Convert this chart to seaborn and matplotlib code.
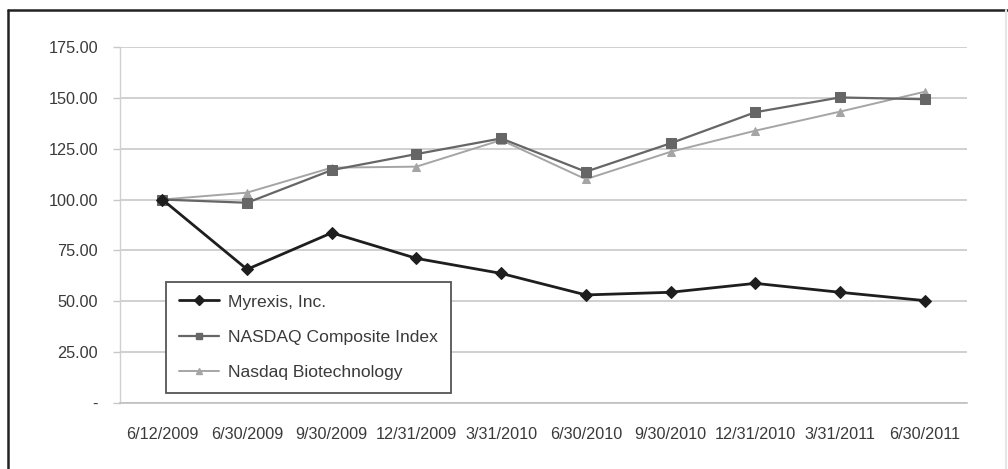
import matplotlib
matplotlib.use("Agg")
import matplotlib.pyplot as plt
from matplotlib.lines import Line2D
import seaborn as sns
import pandas as pd
import numpy as np

dates = ["6/12/2009", "6/30/2009", "9/30/2009", "12/31/2009", "3/31/2010",
         "6/30/2010", "9/30/2010", "12/31/2010", "3/31/2011", "6/30/2011"]
myrexis = [100.0, 65.6, 83.6, 71.0, 63.6, 53.0, 54.3, 58.7, 54.3, 50.2]
nasdaq = [100.0, 98.4, 114.5, 122.4, 130.1, 113.7, 127.7, 143.0, 150.3, 149.4]
biotech = [100.0, 103.4, 115.7, 116.2, 129.3, 110.0, 123.5, 133.9, 143.3, 153.1]
series_names = ["Myrexis, Inc.", "NASDAQ Composite Index", "Nasdaq Biotechnology"]
ytick_vals = [0, 25, 50, 75, 100, 125, 150, 175]
ytick_labels = ["-", "25.00", "50.00", "75.00", "100.00", "125.00", "150.00", "175.00"]

sns.set_theme(style="white")
plt.rcParams["font.family"] = ["Liberation Sans", "DejaVu Sans"]

rows = []
for name, vals in zip(series_names, [myrexis, nasdaq, biotech]):
    for i, (d, v) in enumerate(zip(dates, vals)):
        rows.append({"pos": i, "date": d, "value": v, "series": name})
df = pd.DataFrame(rows)

W, H = 1008, 469
PX = 72 / 100  # points per pixel
fig = plt.figure(figsize=(W / 100, H / 100), dpi=100)
ax = fig.add_axes([120 / W, 1 - 402.5 / H, (967 - 120) / W, (402.5 - 47.3) / H])

# outer frame (top and left dark, right faint)
fx0, fy1 = 8 / W, 1 - 10 / H
fig.lines.append(Line2D([fx0, 1], [fy1, fy1], transform=fig.transFigure,
                        color="#222222", linewidth=1.8, zorder=0))
fig.lines.append(Line2D([fx0, fx0], [0, fy1], transform=fig.transFigure,
                        color="#222222", linewidth=1.8, zorder=0))
fig.lines.append(Line2D([1006 / W, 1006 / W], [0, fy1], transform=fig.transFigure,
                        color="#e6e6e6", linewidth=1.5, zorder=0))

palette = {series_names[0]: "#1e1e1e", series_names[1]: "#666666", series_names[2]: "#a5a5a5"}
markers = {series_names[0]: "D", series_names[1]: "s", series_names[2]: "^"}
sizes = {series_names[0]: 2.0, series_names[1]: 1.6, series_names[2]: 1.4}

for k, name in enumerate(series_names[::-1]):
    sub = df[df["series"] == name]
    sns.lineplot(data=sub, x="pos", y="value", ax=ax, color=palette[name],
                 marker=markers[name], markersize=6.5 if name != series_names[2] else 6,
                 markeredgecolor=palette[name], markerfacecolor=palette[name],
                 linewidth=sizes[name], label=name, legend=False, zorder=3 + k)

ax.set_xlim(-0.5, len(dates) - 0.5)
ax.set_ylim(0, 175)
ax.set_yticks(ytick_vals)
ax.set_yticklabels(ytick_labels)
ax.set_xticks(range(len(dates)))
ax.set_xticklabels(dates)
ax.set_xticks(np.arange(-0.5, len(dates)), minor=True)
ax.tick_params(axis="x", which="major", length=0, pad=24 * PX, labelsize=11.7,
               labelcolor="#3a3a3a")
ax.tick_params(axis="x", which="minor", length=6 * PX, width=1, color="#c8c8c8",
               direction="out")
ax.tick_params(axis="y", which="major", length=7 * PX, width=1, color="#c8c8c8",
               pad=15 * PX, labelsize=11.7, labelcolor="#3a3a3a", left=True)
ax.grid(axis="y", color="#c8c8c8", linewidth=1.2)
ax.grid(axis="x", visible=False)
for side in ["top", "right"]:
    ax.spines[side].set_visible(False)
ax.spines["left"].set_color("#d0d0d0")
ax.spines["bottom"].set_color("#c0c0c0")
ax.spines["left"].set_linewidth(1)
ax.spines["bottom"].set_linewidth(1.2)
ax.set_xlabel("")
ax.set_ylabel("")

handles = [Line2D([0], [0], color=palette[n], marker=markers[n], markersize=5,
                  markerfacecolor=palette[n], markeredgecolor=palette[n],
                  linewidth=sizes[n]) for n in series_names]
leg = ax.legend(handles, series_names, loc="upper left",
                bbox_to_anchor=((166 - 120) / 847, (402.5 - 281.7) / 355.2),
                frameon=True, fancybox=False, edgecolor="#555555", framealpha=1,
                fontsize=12.6, handlelength=2.3, handletextpad=0.55,
                labelspacing=1.15, borderpad=0.72, borderaxespad=0)
leg.get_frame().set_linewidth(1.3)
for t in leg.get_texts():
    t.set_color("#3a3a3a")

fig.savefig("out.png", dpi=100, facecolor="white")
